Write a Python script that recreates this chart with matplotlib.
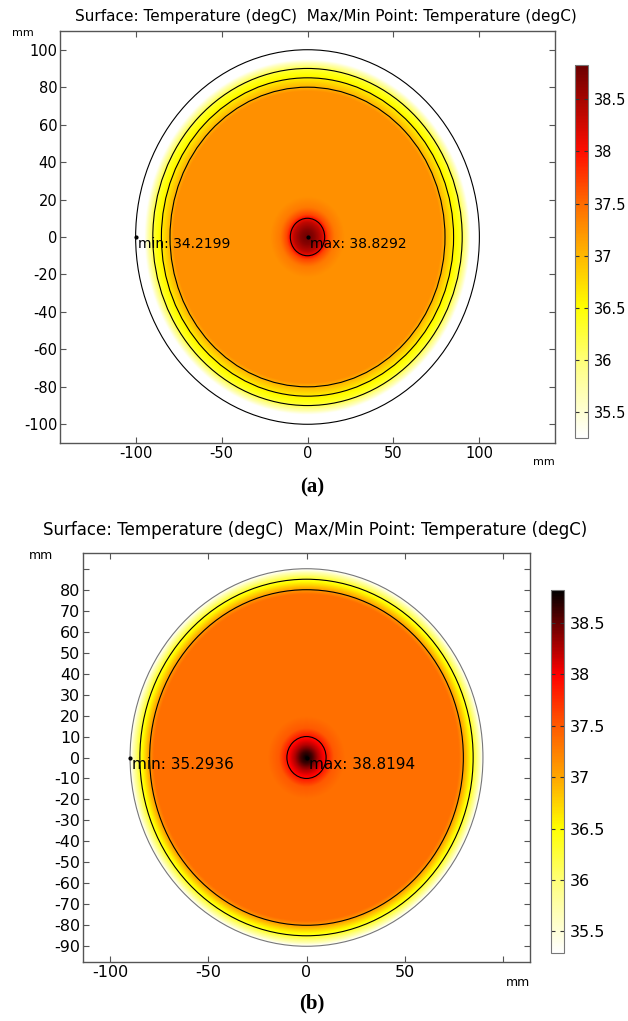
import numpy as np
import matplotlib.pyplot as plt
from matplotlib.colors import LinearSegmentedColormap
from matplotlib.patches import Circle

# ---- panel (a) data ----
a_r = [0, 4, 8, 10, 12, 16, 22, 78, 80, 83, 86, 89, 91, 93, 95, 100]
a_T = [38.83, 38.65, 38.35, 38.05, 37.7, 37.4, 37.25, 37.25, 37.05, 36.8, 36.55, 36.35, 36.05, 35.7, 35.25, 34.22]
a_circles = [100, 90, 85, 80, 10]
a_min = (-100, 0, 34.2199)
a_max = (0, 0, 38.8292)
a_xticks = [-100, -50, 0, 50, 100]
a_yticks = [-100, -80, -60, -40, -20, 0, 20, 40, 60, 80, 100]
a_cticks = [35.5, 36, 36.5, 37, 37.5, 38, 38.5]

# ---- panel (b) data ----
b_r = [0, 3, 6, 10, 14, 20, 78, 80, 82, 84, 86, 88, 90]
b_T = [38.82, 38.6, 38.25, 37.9, 37.5, 37.35, 37.35, 37.1, 36.8, 36.5, 36.2, 35.8, 35.29]
b_circles = [90, 85, 80, 10]
b_min = (-90, 0, 35.2936)
b_max = (0, 0, 38.8194)
b_xticks = [-100, -50, 0, 50, 100]
b_yticks = [-90, -80, -70, -60, -50, -40, -30, -20, -10, 0, 10, 20, 30, 40, 50, 60, 70, 80, 90]
b_cticks = [35.5, 36, 36.5, 37, 37.5, 38, 38.5]

TITLE = "Surface: Temperature (degC)  Max/Min Point: Temperature (degC)"

W, H = 628, 1021
fig = plt.figure(figsize=(W / 100, H / 100), dpi=100)


def box(x0, y0, x1, y1):
    return [x0 / W, 1 - y1 / H, (x1 - x0) / W, (y1 - y0) / H]


def make_cmap(vmin, vmax, stops):
    return LinearSegmentedColormap.from_list(
        "c", [((v - vmin) / (vmax - vmin), c) for v, c in stops])


def panel(ax_box, cb_box, xlim, ylim, r_k, T_k, R, circles, pmin, pmax,
          xticks, yticks, cticks, cstops, vmin, vmax, fs, lfs, outer_gray,
          hide_x, hide_y, mm_y, title_xy, tfs):
    ax = fig.add_axes(box(*ax_box))
    x = np.linspace(xlim[0], xlim[1], 700)
    y = np.linspace(ylim[0], ylim[1], 700)
    X, Y = np.meshgrid(x, y)
    Rr = np.hypot(X, Y)
    T = np.interp(Rr, r_k, T_k)
    T = np.ma.masked_where(Rr > R, T)
    cmap = make_cmap(vmin, vmax, cstops)
    cmap.set_bad("white")
    cmap.set_under("white")
    im = ax.imshow(T, extent=[xlim[0], xlim[1], ylim[0], ylim[1]], origin="lower",
                   aspect="auto", cmap=cmap, vmin=vmin, vmax=vmax, interpolation="bilinear")
    for rc in circles:
        col = "#777777" if (outer_gray and rc == R) else "black"
        ax.add_patch(Circle((0, 0), rc, fill=False, ec=col, lw=0.8))
    for (px, py, v), lab in [(pmin, "min"), (pmax, "max")]:
        ax.plot(px, py, "o", ms=2, color="black")
        ax.annotate(f"{lab}: {v:.4f}", (px, py), xytext=(1.5, -5), textcoords="offset points",
                    ha="left", va="center", fontsize=lfs)
    ax.set_xlim(xlim)
    ax.set_ylim(ylim)
    ax.set_xticks(xticks)
    ax.set_yticks(yticks)
    ax.set_xticklabels(["" if t in hide_x else str(t) for t in xticks])
    ax.set_yticklabels(["" if t in hide_y else str(t) for t in yticks])
    ax.tick_params(direction="in", length=4, width=0.8, top=True, right=True,
                   labelsize=fs, color="#555555", pad=2)
    for s in ax.spines.values():
        s.set_color("#555555")
        s.set_linewidth(1)
    ax.text(1.0, -0.035, "mm", transform=ax.transAxes, ha="right", va="top", fontsize=fs - 2.5)
    fig.text(title_xy[0] / W, 1 - title_xy[1] / H, TITLE, ha="center", va="center", fontsize=tfs)
    cax = fig.add_axes(box(*cb_box))
    cb = fig.colorbar(im, cax=cax, ticks=cticks)
    cb.ax.set_yticklabels([f"{t:g}" for t in cticks])
    cb.ax.tick_params(direction="in", length=3, width=0.8, left=True, right=True,
                      labelsize=fs, color="#333333", pad=4)
    cb.outline.set_edgecolor("#777777")
    fig.text(mm_y[0] / W, 1 - mm_y[1] / H, "mm", ha="right", va="center", fontsize=fs - 2.5)
    return ax


stops_a = [(35.25, (1, 1, 1)), (35.9, (1, 1, 0.55)), (36.5, (1, 1, 0)), (37.0, (1, 0.72, 0)),
           (37.5, (1, 0.42, 0)), (38.0, (1, 0.05, 0)), (38.83, (0.42, 0, 0))]
stops_b = [(35.29, (1, 1, 1)), (35.9, (1, 1, 0.55)), (36.5, (1, 1, 0)), (37.0, (1, 0.65, 0)),
           (37.5, (1, 0.35, 0)), (38.0, (1, 0, 0)), (38.5, (0.4, 0, 0)), (38.82, (0, 0, 0))]

panel((60, 31, 555, 443), (575, 65, 588, 438), (-144, 144), (-110, 110), a_r, a_T, 100,
      a_circles, a_min, a_max, a_xticks, a_yticks, a_cticks, stops_a, 35.25, 38.83, 10.5, 10,
      False, [], [], (34, 33), (326, 17), 11)
panel((83, 553, 530, 962), (551, 590, 564, 953), (-114, 114), (-97.5, 97.5), b_r, b_T, 90,
      b_circles, b_min, b_max, b_xticks, b_yticks, b_cticks, stops_b, 35.29, 38.82, 11.5, 11,
      True, [100], [90], (53, 555), (315, 530), 12)

fig.text(312 / W, 1 - 487 / H, "(a)", ha="center", va="center", fontsize=15,
         fontweight="bold", family="Liberation Serif")
fig.text(312 / W, 1 - 1003 / H, "(b)", ha="center", va="center", fontsize=15,
         fontweight="bold", family="Liberation Serif")

fig.savefig("out.png", dpi=100)
